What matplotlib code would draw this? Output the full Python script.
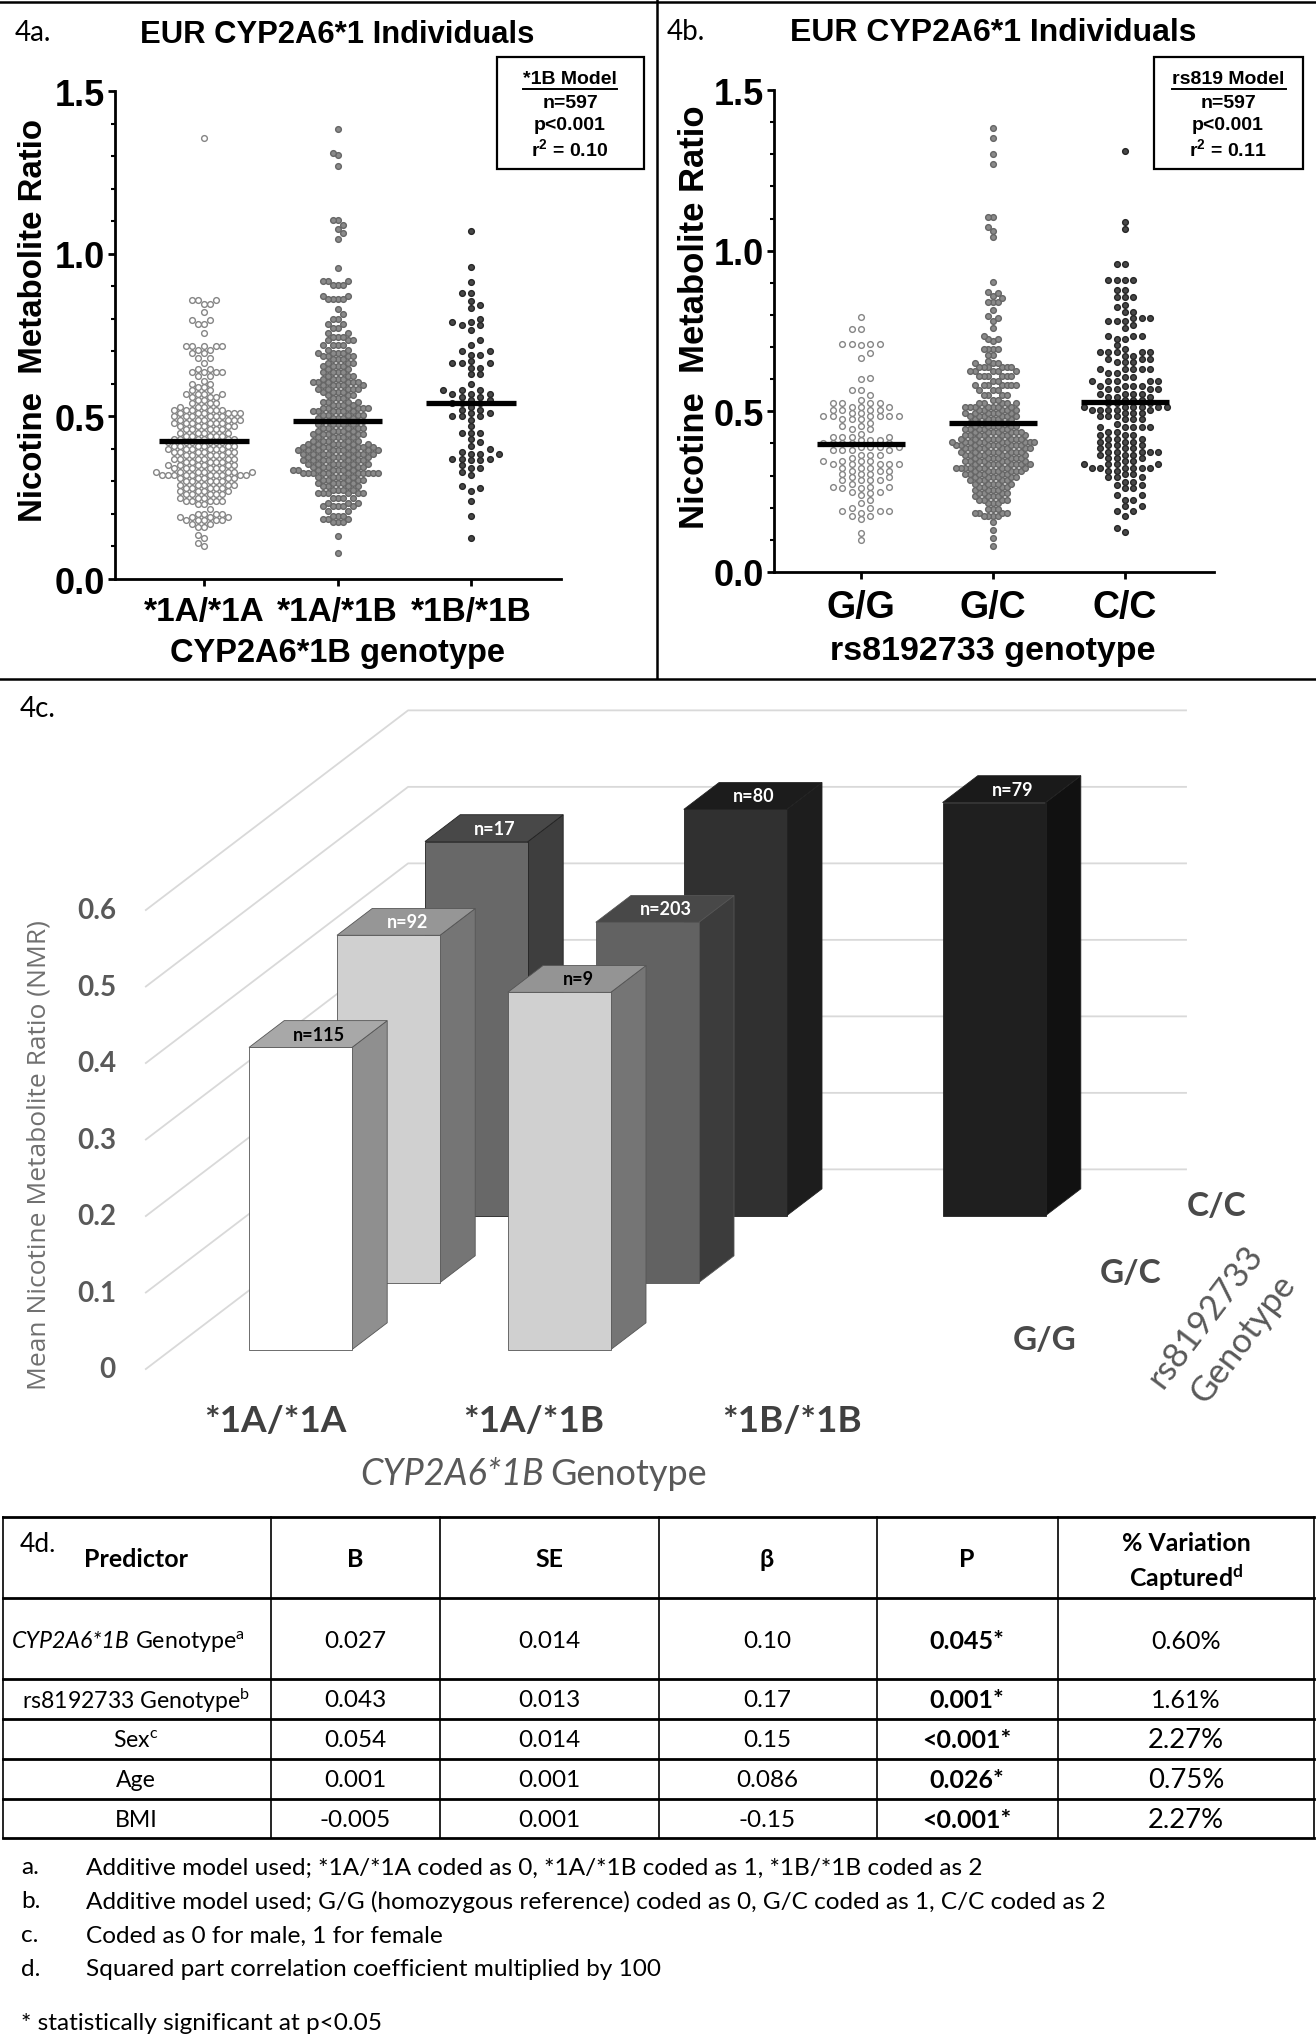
import numpy as np
import matplotlib
matplotlib.use("Agg")
import matplotlib.pyplot as plt
from matplotlib.patches import Polygon, Rectangle

W = 1316
H = 2040
ARIAL = "Liberation Sans"
CALI = ["Lato", "DejaVu Sans"]
plt.rcParams["mathtext.fontset"] = "custom"
plt.rcParams["mathtext.rm"] = "Lato"
plt.rcParams["mathtext.it"] = "Lato:italic"
plt.rcParams["mathtext.bf"] = "Lato:bold"
plt.rcParams["mathtext.sf"] = "Liberation Sans:bold"

# panel a, swarm levels and how many dots sit at each level
a1_vals = [.10, .11, .125, .135, .16, .17, .18, .19, .20, .215,
           .23, .24, .25, .26, .27, .28, .29, .30, .31, .32,
           .33, .34, .35, .36, .37, .38, .39, .40, .41, .42,
           .43, .44, .45, .46, .47, .48, .49, .50, .51, .52,
           .53, .54, .55, .56, .57, .58, .59, .60, .61, .625,
           .635, .645, .665, .68, .695, .705, .715, .757, .785, .795,
           .82, .845, .858, 1.354]
a1_counts = [1, 1, 1, 1, 2, 2, 5, 4, 4, 1,
             2, 5, 3, 5, 4, 5, 5, 5, 5, 10,
             7, 6, 6, 5, 6, 5, 6, 6, 6, 6,
             6, 5, 4, 5, 5, 6, 6, 6, 6, 6,
             3, 3, 2, 3, 4, 2, 2, 2, 1, 2,
             4, 2, 1, 2, 2, 2, 5, 1, 2, 2,
             1, 2, 3, 1]
a2_vals = [.08, .132, .175, .185, .195, .21, .225, .235, .25, .265,
           .275, .285, .295, .305, .315, .325, .335, .345, .355, .365,
           .375, .385, .395, .405, .415, .425, .435, .445, .455, .465,
           .475, .485, .495, .505, .515, .525, .535, .545, .555, .565,
           .575, .585, .595, .605, .615, .625, .635, .645, .655, .665,
           .675, .685, .695, .705, .72, .735, .745, .755, .77, .785,
           .80, .815, .83, .86, .87, .905, .915, .955, 1.045, 1.062,
           1.076, 1.089, 1.105, 1.27, 1.302, 1.31, 1.383]
a2_counts = [1, 1, 3, 3, 3, 2, 5, 3, 4, 6,
             4, 4, 5, 5, 5, 11, 7, 6, 7, 7,
             7, 8, 9, 8, 7, 5, 5, 6, 5, 5,
             5, 5, 5, 5, 6, 6, 4, 4, 3, 3,
             4, 5, 5, 6, 4, 3, 4, 2, 4, 3,
             3, 4, 4, 2, 4, 3, 3, 2, 2, 2,
             2, 1, 1, 4, 2, 3, 3, 1, 1, 1,
             1, 1, 2, 1, 1, 1, 1]
a3_vals = [.125, .195, .24, .27, .28, .285, .32, .33, .34, .35,
           .365, .37, .385, .39, .40, .41, .42, .43, .45, .47,
           .49, .50, .51, .52, .53, .54, .55, .56, .57, .58,
           .60, .63, .65, .665, .67, .69, .70, .72, .735, .765,
           .78, .79, .80, .832, .843, .855, .879, .913, .958, 1.069]
a3_counts = [1, 1, 1, 1, 1, 1, 1, 1, 2, 1,
             2, 3, 3, 1, 1, 1, 1, 1, 3, 1,
             1, 3, 2, 2, 1, 3, 2, 2, 3, 3,
             1, 2, 2, 3, 1, 2, 2, 1, 1, 1,
             2, 2, 1, 1, 1, 1, 2, 1, 1, 1]
a_means = [0.425, 0.486, 0.542]
a_labels = ["*1A/*1A", "*1A/*1B", "*1B/*1B"]

# panel b
b1_vals = [.10, .12, .165, .175, .185, .19, .20, .215, .225, .24,
           .245, .25, .26, .265, .275, .285, .295, .305, .315, .325,
           .335, .345, .355, .365, .38, .39, .40, .41, .42, .43,
           .445, .455, .465, .475, .485, .495, .505, .515, .525, .535,
           .55, .565, .60, .605, .665, .68, .705, .71, .755, .795]
b1_counts = [1, 1, 1, 2, 1, 3, 2, 1, 1, 1,
             1, 2, 2, 3, 1, 4, 2, 3, 3, 3,
             5, 4, 1, 3, 4, 4, 5, 3, 4, 1,
             2, 2, 1, 3, 6, 2, 4, 3, 4, 1,
             1, 2, 1, 1, 1, 1, 1, 4, 2, 1]
b2_vals = [.08, .105, .13, .155, .175, .185, .195, .215, .225, .235,
           .245, .255, .265, .275, .285, .295, .305, .315, .325, .335,
           .345, .355, .365, .375, .385, .395, .405, .415, .425, .435,
           .445, .455, .465, .475, .485, .495, .505, .515, .525, .535,
           .55, .567, .582, .595, .611, .625, .638, .65, .657, .675,
           .694, .72, .725, .734, .76, .781, .79, .798, .816, .84,
           .852, .86, .868, .872, .902, 1.044, 1.062, 1.074, 1.105, 1.27,
           1.301, 1.352, 1.383]
b2_counts = [1, 1, 1, 1, 4, 4, 3, 3, 4, 4,
             4, 4, 4, 5, 5, 6, 6, 7, 9, 8,
             7, 7, 7, 8, 8, 9, 10, 8, 7, 7,
             6, 6, 5, 5, 6, 6, 5, 7, 5, 2,
             4, 3, 7, 2, 6, 5, 6, 3, 1, 2,
             4, 1, 2, 1, 1, 1, 1, 1, 1, 3,
             1, 1, 1, 1, 1, 1, 1, 1, 2, 1,
             1, 1, 1]
b3_vals = [.123, .136, .175, .19, .205, .225, .24, .26, .27, .28,
           .295, .305, .315, .325, .335, .345, .355, .365, .375, .385,
           .395, .405, .415, .425, .435, .45, .46, .475, .485, .495,
           .505, .515, .525, .535, .545, .554, .57, .58, .595, .606,
           .619, .632, .653, .663, .673, .684, .694, .706, .725, .734,
           .76, .77, .782, .79, .809, .826, .83, .856, .879, .91,
           .958, 1.068, 1.089, 1.31]
b3_counts = [1, 1, 1, 2, 2, 2, 2, 2, 2, 2,
             3, 2, 2, 6, 4, 2, 3, 3, 5, 3,
             3, 3, 3, 3, 2, 5, 1, 3, 3, 3,
             5, 6, 3, 3, 3, 4, 4, 4, 5, 2,
             2, 5, 3, 3, 2, 5, 1, 1, 2, 3,
             1, 1, 3, 3, 2, 1, 1, 3, 2, 4,
             2, 1, 1, 1]
b_means = [0.399, 0.465, 0.53]
b_labels = ["G/G", "G/C", "C/C"]

# panel c
cyp_labels = ["*1A/*1A", "*1A/*1B", "*1B/*1B"]
rs_labels = ["G/G", "G/C", "C/C"]
c_ticks = [0, 0.1, 0.2, 0.3, 0.4, 0.5, 0.6]
bar_cyp = [0, 1, 0, 1, 0, 1, 2]
bar_rs = [2, 2, 1, 1, 0, 0, 2]
bar_mean = [0.489, 0.531, 0.454, 0.471, 0.395, 0.467, 0.54]
bar_n = ["n=17", "n=80", "n=92", "n=203", "n=115", "n=9", "n=79"]
bar_front = ["#686868", "#303030", "#d0d0d0", "#626262", "#ffffff", "#d0d0d0", "#1f1f1f"]
bar_side = ["#3e3e3e", "#1d1d1d", "#757575", "#3c3c3c", "#8f8f8f", "#757575", "#111111"]
bar_top = ["#484848", "#1c1c1c", "#969696", "#484848", "#a8a8a8", "#949494", "#1a1a1a"]
bar_text = ["white", "white", "white", "white", "black", "black", "white"]

# panel d
col_heads = ["B", "SE", "β", "P"]
predictors = [r"rs8192733 Genotype$^{\mathrm{b}}$", r"Sex$^{\mathrm{c}}$", "Age", "BMI"]
col_b = ["0.027", "0.043", "0.054", "0.001", "-0.005"]
col_se = ["0.014", "0.013", "0.014", "0.001", "0.001"]
col_beta = ["0.10", "0.17", "0.15", "0.086", "-0.15"]
col_p = ["0.045*", "0.001*", "<0.001*", "0.026*", "<0.001*"]
col_var = ["0.60%", "1.61%", "2.27%", "0.75%", "2.27%"]
notes = ["Additive model used; *1A/*1A coded as 0, *1A/*1B coded as 1, *1B/*1B coded as 2",
         "Additive model used; G/G (homozygous reference) coded as 0, G/C coded as 1, C/C coded as 2",
         "Coded as 0 for male, 1 for female",
         "Squared part correlation coefficient multiplied by 100"]
note_tags = ["a.", "b.", "c.", "d."]


def swarm(values, gap):
    # put every dot in the nearest free column, sorted from the bottom up
    last = {}
    slots = []
    for i, v in enumerate(sorted(values)):
        side = 1 if i % 2 == 0 else -1
        k = 0
        while True:
            found = None
            for c in ([k] if k == 0 else [side * k, -side * k]):
                if c not in last or v - last[c] >= gap:
                    found = c
                    break
            if found is not None:
                break
            k += 1
        last[found] = v
        slots.append(found)
    return np.array(sorted(values)), np.array(slots)


def px_axes(left, top, right, bottom):
    ax = fig.add_axes([left / W, 1 - bottom / H, (right - left) / W, (bottom - top) / H])
    ax.patch.set_visible(False)
    return ax


def swarm_panel(left, top, right, bottom, spacing, groups, steps, means, labels, label_size, label_pad):
    ax = px_axes(left, top, right, bottom)
    c0 = (spacing[0] - left) / spacing[1]
    ax.set_xlim(-c0, (right - left) / spacing[1] - c0)
    ax.set_ylim(0, 1.5)
    styles = [("white", "#858585"), ("#8a8a8a", "#666666"), ("#484848", "#262626")]
    for i, (vals, counts) in enumerate(groups):
        y, slots = swarm(np.repeat(vals, counts), 0.0175)
        x = i + slots * steps[i] / spacing[1]
        ax.scatter(x, y, s=17, facecolor=styles[i][0], edgecolor=styles[i][1], linewidth=1.0, zorder=2)
        ax.plot([i - 0.334, i + 0.334], [means[i], means[i]], color="black", lw=3.8,
                solid_capstyle="butt", zorder=3)
    for s in ["top", "right"]:
        ax.spines[s].set_visible(False)
    for s in ["left", "bottom"]:
        ax.spines[s].set_linewidth(2)
    ax.set_xticks([0, 1, 2])
    ax.set_xticklabels(labels, fontname=ARIAL, fontweight="bold", fontsize=label_size)
    ax.set_yticks([0, 0.5, 1.0, 1.5])
    ax.set_yticklabels(["0.0", "0.5", "1.0", "1.5"], fontname=ARIAL, fontweight="bold", fontsize=26)
    ax.set_yticks(np.arange(0, 1.5, 0.1), minor=True)
    ax.tick_params(axis="both", which="major", width=2, length=5)
    ax.tick_params(axis="y", which="minor", width=1.5, length=3)
    ax.tick_params(axis="x", pad=label_pad)
    ax.tick_params(axis="y", pad=2)
    return ax


def info_box(x0, x1, cx, head, uline, r2):
    page.add_patch(Rectangle((x0, 58), x1 - x0, 112, fc="white", ec="black", lw=1.6))
    for y, s in zip([80, 103, 126, 149], [head, "n=597", "p<0.001", r2]):
        page.text(cx, y, s, ha="center", va="center", fontname=ARIAL, fontweight="bold", fontsize=14)
    page.plot(uline, [90, 90], color="black", lw=1.4)


def project(c, d, v):
    # oblique projection of panel c: genotype column, rs8192733 depth, mean NMR
    return 249 + c * 258.8 + d * 88, 1350.6 - d * 67 - v * 765


fig = plt.figure(figsize=(W / 100, H / 100), dpi=100)
page = fig.add_axes([0, 0, 1, 1])
page.set_xlim(0, W)
page.set_ylim(H, 0)
page.axis("off")

# frame lines between the panels
page.plot([0, W], [3, 3], color="black", lw=1.8)
page.plot([657, 657], [0, 679], color="black", lw=1.8)
page.plot([0, W], [680, 680], color="black", lw=1.8)

# panels a and b
swarm_panel(114.5, 92, 561, 580, (204, 133.5),
            [(a1_vals, a1_counts), (a2_vals, a2_counts), (a3_vals, a3_counts)],
            [6, 5, 9.4], a_means, a_labels, 24, 7)
swarm_panel(774, 91, 1214, 573, (861, 132),
            [(b1_vals, b1_counts), (b2_vals, b2_counts), (b3_vals, b3_counts)],
            [9.4, 4.6, 8.3], b_means, b_labels, 27, 7)

page.text(33, 33, "4a.", ha="center", va="center", fontname="Lato", fontsize=20)
page.text(686, 32, "4b.", ha="center", va="center", fontname="Lato", fontsize=20)
page.text(337, 35, "EUR CYP2A6*1 Individuals", ha="center", va="center", fontname=ARIAL, fontweight="bold", fontsize=22.3)
page.text(993, 33, "EUR CYP2A6*1 Individuals", ha="center", va="center", fontname=ARIAL, fontweight="bold", fontsize=23)
page.text(34, 321, "Nicotine  Metabolite Ratio", rotation=90, ha="center", va="center", fontname=ARIAL, fontweight="bold", fontsize=23.8)
page.text(694, 317, "Nicotine  Metabolite Ratio", rotation=90, ha="center", va="center", fontname=ARIAL, fontweight="bold", fontsize=24.9)
page.text(337, 654, "CYP2A6*1B genotype", ha="center", va="center", fontname=ARIAL, fontweight="bold", fontsize=23.5)
page.text(993, 652, "rs8192733 genotype", ha="center", va="center", fontname=ARIAL, fontweight="bold", fontsize=24.5)
info_box(497, 643.5, 570, "*1B Model", [523, 617], r"r$^{\mathsf{2}}$ = 0.10")
info_box(1154, 1303, 1228, "rs819 Model", [1172, 1285.5], r"r$^{\mathsf{2}}$ = 0.11")

# panel c
page.text(38, 709, "4c.", ha="center", va="center", fontname="Lato", fontsize=20)
for v in c_ticks:
    xf, yf = project(-0.30, -0.29, v)
    xb, yb = project(-0.30, 2.69, v)
    xr, yr = project(2.706, 2.69, v)
    page.plot([xf, xb, xr], [yf, yb, yr], color="#d9d9d9", lw=1.3, zorder=1)
    page.text(116, yf, str(v), ha="right", va="center", fontname="Lato", fontweight="bold",
              fontsize=20, color="#595959")
for i in range(len(bar_mean)):
    c, d, v = bar_cyp[i], bar_rs[i], bar_mean[i]
    w = 0.398
    deep = 0.4
    a = project(c, d, 0)
    b = project(c + w, d, 0)
    e = project(c + w, d, v)
    f = project(c, d, v)
    g = project(c + w, d + deep, v)
    h = project(c, d + deep, v)
    k = project(c + w, d + deep, 0)
    edge = "#555555" if i in (2, 3, 4, 5) else "#222222"
    page.add_patch(Polygon([b, k, g, e], fc=bar_side[i], ec=edge, lw=0.6, zorder=2 + i))
    page.add_patch(Polygon([f, e, g, h], fc=bar_top[i], ec=edge, lw=0.6, zorder=2 + i))
    page.add_patch(Polygon([a, b, e, f], fc=bar_front[i], ec=edge, lw=0.6, zorder=2 + i))
    tx, ty = project(c + w / 2, d + deep / 2, v)
    page.text(tx + 1, ty, bar_n[i], ha="center", va="center", fontname="Lato", fontweight="bold",
              fontsize=13, color=bar_text[i], zorder=20)
page.text(39, 1155, "Mean Nicotine Metabolite Ratio (NMR)", rotation=90, ha="center", va="center",
          fontname="Open Sans", fontsize=19, color="#707070")
for i, s in enumerate(cyp_labels):
    page.text(275.6 + i * 258.2, 1422, s, ha="center", va="center", fontname="Lato", fontweight="bold",
              fontsize=26.6, color="#404040")
for i, s in enumerate(rs_labels):
    page.text(1044.5 + i * 86, 1341 - i * 67, s, ha="center", va="center", fontname="Lato", fontweight="bold",
              fontsize=24, color="#4a4a4a")
page.text(1205, 1317, "rs8192733", rotation=53, ha="center", va="center", fontname="Lato", fontsize=25,
          color="#595959", rotation_mode="anchor")
page.text(1243, 1339, "Genotype", rotation=53, ha="center", va="center", fontname="Lato", fontsize=25,
          color="#595959", rotation_mode="anchor")
fig.canvas.draw()
rend = fig.canvas.get_renderer()
t1 = page.text(360, 1475, "CYP2A6*1B", ha="left", va="center", fontname="Lato", fontstyle="italic", fontsize=26, color="#595959")
t1_end = t1.get_window_extent(rend).x1
page.text(t1_end + 7, 1475, "Genotype", ha="left", va="center", fontname="Lato", fontsize=26, color="#595959")

# panel d table
row_lines = [1518, 1599, 1680, 1720, 1760, 1800, 1839]
col_lines = [3, 270.5, 439.5, 659, 877, 1058, 1314]
for y in row_lines:
    page.plot([3, 1314], [y, y], color="black", lw=2)
for x in col_lines:
    page.plot([x, x], [1518, 1839], color="black", lw=1.2)
page.text(38, 1545, "4d.", ha="center", va="center", fontname="Lato", fontsize=19)
col_x = [355, 549, 767, 967]
row_y = [1642, 1701, 1741, 1781, 1821]
page.text(136, 1560, "Predictor", ha="center", va="center", fontname="Lato", fontweight="bold", fontsize=18)
for x, s in zip(col_x, col_heads):
    page.text(x, 1560, s, ha="center", va="center", family=CALI, fontweight="bold", fontsize=18)
page.text(1186, 1544, "% Variation", ha="center", va="center", fontname="Lato", fontweight="bold", fontsize=17.9)
page.text(1186, 1578, r"Captured$^{\mathbf{d}}$", ha="center", va="center", fontname="Lato", fontweight="bold", fontsize=17.9)
t2 = page.text(12, row_y[0], "CYP2A6*1B", ha="left", va="center", fontname="Lato", fontstyle="italic", fontsize=16.7)
t2_end = t2.get_window_extent(rend).x1
page.text(t2_end + 5, row_y[0], r"Genotype$^{\mathrm{a}}$", ha="left", va="center", fontname="Lato", fontsize=16.7)
for y, s in zip(row_y[1:], predictors):
    page.text(136, y, s, ha="center", va="center", fontname="Lato", fontsize=16.6)
for i, y in enumerate(row_y):
    page.text(col_x[0], y, col_b[i], ha="center", va="center", fontname="Lato", fontsize=17.5)
    page.text(col_x[1], y, col_se[i], ha="center", va="center", fontname="Lato", fontsize=17.5)
    page.text(col_x[2], y, col_beta[i], ha="center", va="center", fontname="Lato", fontsize=17.5)
    page.text(col_x[3], y, col_p[i], ha="center", va="center", fontname="Lato", fontweight="bold", fontsize=18)
    page.text(1186, y, col_var[i], ha="center", va="center", fontname="Lato", fontsize=18 if i < 2 else 19.7)
for y, tag, s in zip([1868, 1901.5, 1936, 1970], note_tags, notes):
    page.text(21, y, tag, ha="left", va="center", fontname="Lato", fontsize=17.6)
    page.text(86, y, s, ha="left", va="center", fontname="Lato", fontsize=17.6)
page.text(21, 2024, "* statistically significant at p<0.05", ha="left", va="center", fontname="Lato", fontsize=17.6)

fig.savefig("out.png", dpi=100)
